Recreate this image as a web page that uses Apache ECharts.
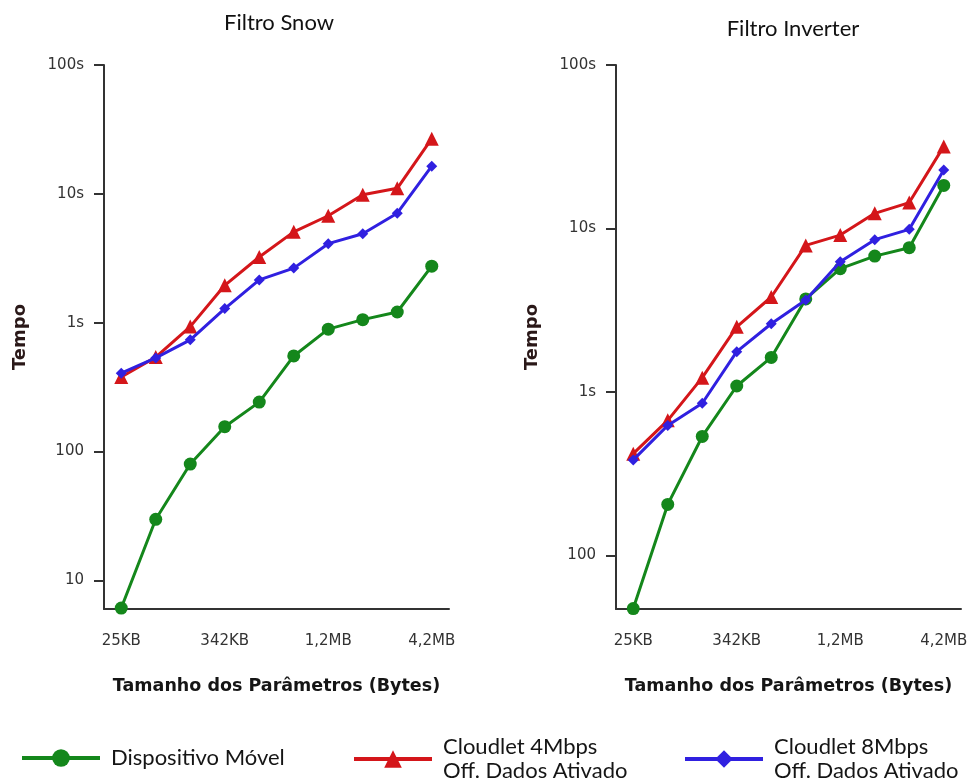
<!DOCTYPE html>
<html>
<head>
<meta charset="utf-8">
<script src="https://cdn.jsdelivr.net/npm/echarts@6/dist/echarts.min.js"></script>
<style>html,body{margin:0;padding:0;background:#fff;}#c{width:975px;height:783px;}</style>
</head>
<body>
<div id="c"></div>
<script>
// Categories (parameter sizes); only some are labelled in the reference
const categories = ['25KB', 'p2', 'p3', '342KB', 'p5', 'p6', '1,2MB', 'p8', 'p9', '4,2MB'];
const labelledIdx = [0, 3, 6, 9];

// Y tick labels (values in milliseconds)
const yTickValues = [10, 100, 1000, 10000, 100000];
const yTickLabels = ['10', '100', '1s', '10s', '100s'];

const seriesNames = ['Dispositivo Móvel', 'Cloudlet 4Mbps\nOff. Dados Ativado', 'Cloudlet 8Mbps\nOff. Dados Ativado'];

// Filtro Snow (ms)
const snowMovel = [6.1, 29.8, 80, 156, 242, 552, 891, 1056, 1211, 2745];
const snow4M    = [379, 541, 933, 1950, 3236, 5070, 6760, 9840, 11040, 26800];
const snow8M    = [406, 533, 736, 1288, 2147, 2653, 4106, 4900, 7080, 16400];

// Filtro Inverter (ms)
const invMovel = [47.3, 205, 534, 1087, 1626, 3707, 5675, 6777, 7626, 18340];
const inv4M    = [419, 670, 1223, 2502, 3808, 7880, 9110, 12380, 14400, 31780];
const inv8M    = [384, 624, 853, 1764, 2612, 3650, 6250, 8540, 9880, 22750];

const titles = ['Filtro Snow', 'Filtro Inverter'];
const xName = 'Tamanho dos Parâmetros (Bytes)';
const yName = 'Tempo';

const colors = ['#14871b', '#d4161a', '#3020e0'];
const symbols = ['circle', 'triangle', 'diamond'];
const symbolSizes = [13, 14, 11];

const tickFont = 'DejaVu Sans';
const axisColor = '#333';

function yFmt(v) {
  for (let i = 0; i < yTickValues.length; i++) {
    if (Math.abs(v - yTickValues[i]) / yTickValues[i] < 1e-6) return yTickLabels[i];
  }
  return '';
}

function xAxisCfg(gi) {
  return {
    type: 'category', gridIndex: gi, data: categories, boundaryGap: true,
    axisLine: { lineStyle: { color: axisColor, width: 2 } },
    axisTick: { alignWithLabel: true, length: 7, lineStyle: { color: axisColor, width: 2 },
      interval: (i) => labelledIdx.indexOf(i) >= 0 },
    axisLabel: { interval: (i) => labelledIdx.indexOf(i) >= 0, margin: 25,
      fontFamily: tickFont, fontSize: 15, color: '#333' },
    splitLine: { show: false },
    name: xName, nameLocation: 'middle', nameGap: 68,
    nameTextStyle: { fontFamily: 'DejaVu Sans', fontWeight: 'bold', fontSize: 17.5, color: '#151515' }
  };
}
function yAxisCfg(gi, minV) {
  const vals = yTickValues.filter(v => v >= minV);
  return {
    type: 'log', logBase: 10, gridIndex: gi, min: minV, max: 100000,
    axisLine: { show: true, lineStyle: { color: axisColor, width: 2 } },
    axisTick: { show: true, length: 10, customValues: vals, lineStyle: { color: axisColor, width: 2 } },
    axisLabel: { formatter: yFmt, customValues: vals, margin: 20, fontFamily: tickFont, fontSize: 15, color: '#333' },
    splitLine: { show: false },
    minorTick: { show: false },
    name: yName, nameLocation: 'middle', nameGap: 75, nameRotate: 90,
    nameTextStyle: { fontFamily: 'DejaVu Sans', fontWeight: 'bold', fontSize: 18, color: '#2a1818' }
  };
}

const data = [[snowMovel, snow4M, snow8M], [invMovel, inv4M, inv8M]];
const series = [];
for (let g = 0; g < 2; g++) {
  for (let s = 0; s < 3; s++) {
    series.push({
      name: seriesNames[s], type: 'line', xAxisIndex: g, yAxisIndex: g,
      data: data[g][s], symbol: symbols[s], symbolSize: symbolSizes[s],
      itemStyle: { color: colors[s] }, lineStyle: { color: colors[s], width: 3 },
      showSymbol: true, animation: false, z: 2 + s
    });
  }
}

const legendCommon = {
  orient: 'horizontal', itemWidth: 78, itemHeight: 22,
  lineStyle: { width: 4 },
  textStyle: { fontFamily: 'Lato', fontSize: 22, lineHeight: 24, color: '#151515', padding: [0, 0, 0, 6] },
  selectedMode: false
};

const option = {
  backgroundColor: '#fff',
  animation: false,
  title: [
    { text: titles[0], left: 274, top: 7, textAlign: 'center', textStyle: { fontFamily: 'Lato', fontWeight: 'normal', fontSize: 22, color: '#111' } },
    { text: titles[1], left: 788, top: 13, textAlign: 'center', textStyle: { fontFamily: 'Lato', fontWeight: 'normal', fontSize: 22, color: '#111' } }
  ],
  grid: [
    { left: 104, top: 65, width: 345, height: 544 },
    { left: 616, top: 65, width: 345, height: 544 }
  ],
  xAxis: [xAxisCfg(0), xAxisCfg(1)],
  yAxis: [yAxisCfg(0, 6), yAxisCfg(1, 47)],
  legend: [
    Object.assign({}, legendCommon, { data: [seriesNames[0]], left: 15, top: 741 }),
    Object.assign({}, legendCommon, { data: [seriesNames[1]], left: 347, top: 730 }),
    Object.assign({}, legendCommon, { data: [seriesNames[2]], left: 678, top: 730 })
  ],
  series: series
};

const chart = echarts.init(document.getElementById('c'), null, { renderer: 'canvas' });
chart.setOption(option);
</script>
</body>
</html>
